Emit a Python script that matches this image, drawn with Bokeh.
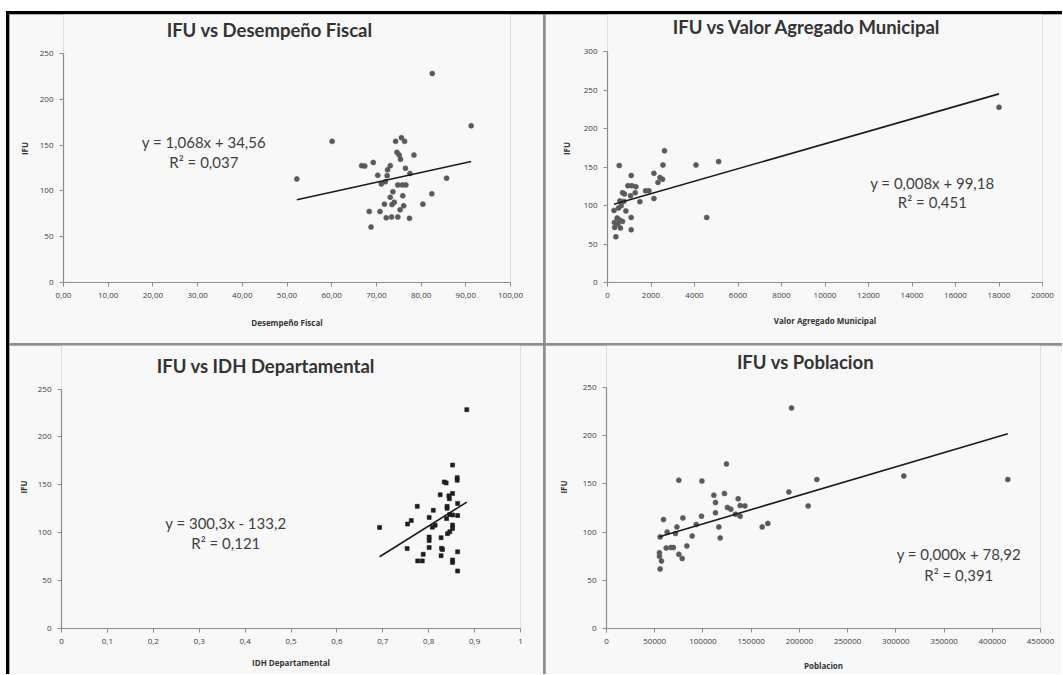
from bokeh.plotting import figure
from bokeh.models import Range1d, FixedTicker, Label
from bokeh.layouts import row, column
from bokeh.embed import file_html
from bokeh.resources import INLINE

# ---------------- data ----------------
titles = ["IFU vs Desempeño Fiscal", "IFU vs Valor Agregado Municipal",
          "IFU vs IDH Departamental", "IFU vs Poblacion"]
x_titles = ["Desempeño Fiscal", "Valor Agregado Municipal", "IDH Departamental", "Poblacion"]
y_title = "IFU"

desempeno = [82.5, 91.2, 60.1, 52.2, 74.3, 75.6, 76.3, 74.6, 75.1, 75.4, 78.4, 67.4, 66.7, 69.3, 73.1,
             72.5, 76.5, 77.5, 70.3, 72.4, 71.1, 72.0, 74.8, 75.8, 76.6, 85.7, 73.7, 75.9, 73.1, 82.4,
             71.8, 73.5, 74.0, 76.1, 80.4, 75.3, 68.4, 70.8, 72.2, 73.4, 74.8, 77.4, 68.8]
ifu_desempeno = [228, 171, 154, 113, 154, 158, 154, 142, 139, 134.5, 139, 127, 127.5, 131, 127.5,
                 123, 124.6, 119, 117, 116.6, 107.6, 110, 106.5, 106.5, 106.5, 113.8, 99, 94.6, 93, 96.7,
                 85.5, 85, 87.5, 83.7, 85.5, 79.3, 77.5, 77.5, 70.6, 71.5, 71.5, 70, 60.5]

valor_agregado = [2620, 540, 2550, 4068, 5110, 1090, 2134, 2320, 2530, 2410, 937, 1120, 1305, 690, 780,
                  1273, 1750, 1904, 1490, 2134, 1057, 569, 753, 629, 505, 845, 300, 1089, 445, 569,
                  689, 320, 477, 330, 597, 1089, 385, 4560, 18000]
ifu_valor = [171, 152, 152.6, 152.6, 157, 139, 141.8, 130, 134, 136.5, 125.7, 125.7, 124.4, 116.6, 115,
             116.6, 119, 119, 105, 109, 112.7, 106, 105.3, 99.7, 96.7, 93, 93.6, 84.5, 83.7, 81,
             79.3, 78, 76, 71.5, 70.7, 68.5, 59.4, 84.5, 227.6]

idh = [0.883, 0.852, 0.834, 0.838, 0.862, 0.862, 0.852, 0.844, 0.845, 0.825, 0.863, 0.840, 0.840,
       0.775, 0.810, 0.846, 0.852, 0.863, 0.801, 0.839, 0.762, 0.754, 0.814, 0.808, 0.852, 0.852,
       0.693, 0.841, 0.846, 0.801, 0.801, 0.827, 0.753, 0.801, 0.828, 0.830, 0.863, 0.788, 0.827,
       0.776, 0.786, 0.852, 0.852, 0.863]
ifu_idh = [228.5, 170.6, 153, 152, 157.5, 154.8, 141, 138.5, 135.5, 139.6, 130.6, 127.5, 125.5,
           127.5, 123.4, 119, 118.5, 118, 116, 114.8, 112.7, 109, 107.9, 105.8, 108, 104.5,
           105.5, 99, 101, 95.5, 92, 94.8, 83.4, 84.5, 83.7, 82.5, 80, 77.5, 76,
           70.6, 70.6, 71.5, 69, 60]

poblacion = [191800, 124400, 75000, 98900, 218100, 189100, 209100, 111300, 122300, 113000, 136500,
             138600, 143500, 125400, 128900, 113000, 133700, 138600, 98500, 79200, 59100, 116500,
             161400, 167300, 93000, 73000, 117900, 88800, 62900, 55600, 71500, 83300, 61900, 66700,
             69400, 54900, 54900, 75000, 78500, 57000, 55600, 308300, 416100]
ifu_poblacion = [228.8, 170.7, 153.8, 153, 154.5, 141.7, 127.2, 138.3, 140, 130.7, 134.5,
                 127.6, 127.2, 125.5, 123.8, 120, 118.6, 116.5, 116.5, 114.7, 113, 105.4,
                 105.4, 109, 107.9, 105.4, 94, 96, 100, 95, 98.5, 85.7, 83.6, 84,
                 84, 78.6, 75, 77, 72.6, 70, 61.8, 158.3, 154.6]

# trend lines (slope, intercept) as shown by the fitted equations
slopes = [1.068, 0.0081, 300.3, 0.000296]
intercepts = [34.56, 99.18, -133.2, 78.92]
eq_texts = ["y = 1,068x + 34,56", "y = 0,008x + 99,18", "y = 300,3x - 133,2", "y = 0,000x + 78,92"]
r2_texts = ["R² = 0,037", "R² = 0,451", "R² = 0,121", "R² = 0,391"]

x_ticks_1 = [0, 10, 20, 30, 40, 50, 60, 70, 80, 90, 100]
x_labels_1 = ["0,00", "10,00", "20,00", "30,00", "40,00", "50,00", "60,00", "70,00", "80,00", "90,00", "100,00"]
x_ticks_2 = [0, 2000, 4000, 6000, 8000, 10000, 12000, 14000, 16000, 18000, 20000]
x_labels_2 = ["0", "2000", "4000", "6000", "8000", "10000", "12000", "14000", "16000", "18000", "20000"]
x_ticks_3 = [0, 0.1, 0.2, 0.3, 0.4, 0.5, 0.6, 0.7, 0.8, 0.9, 1.0]
x_labels_3 = ["0", "0,1", "0,2", "0,3", "0,4", "0,5", "0,6", "0,7", "0,8", "0,9", "1"]
x_ticks_4 = [0, 50000, 100000, 150000, 200000, 250000, 300000, 350000, 400000, 450000]
x_labels_4 = ["0", "50000", "100000", "150000", "200000", "250000", "300000", "350000", "400000", "450000"]
y_ticks_250 = [0, 50, 100, 150, 200, 250]
y_ticks_300 = [0, 50, 100, 150, 200, 250, 300]

# ---------------- styling ----------------
BG = "#f8f8f8"
SEP = "#8f8f8f"
AX = "#8c8c8c"
TITLE_FONT = "Lato"
TXT_FONT = "Lato"
TICK_FONT = "Open Sans"


def make_panel(title, xlab, xs, ys, xr, ymax, xticks, xlabels, yticks, slope, intercept,
               eq, r2, eq_pos, title_pos, W, H, borders, marker="circle", msize=5,
               mcolor="#5a5a5a", xlab_standoff=14, ylab_standoff=10):
    left, right, top, bottom = borders
    # frame reaches the panel top so the title can sit inside it; the axis stops at ymax
    axis_px = H - top - bottom
    ytop = ymax * (1 + top / axis_px)
    p = figure(width=W, height=H, x_range=Range1d(*xr), y_range=Range1d(0, ytop),
               output_backend="svg", toolbar_location=None,
               min_border_left=left, min_border_right=right,
               min_border_top=0, min_border_bottom=bottom)
    p.background_fill_color = BG
    p.border_fill_color = BG
    p.outline_line_color = None
    p.grid.visible = False

    for ax in (p.xaxis[0], p.yaxis[0]):
        ax.axis_line_color = AX
        ax.axis_line_width = 1.2
        ax.major_tick_line_color = AX
        ax.major_tick_in = 0
        ax.major_tick_out = 4
        ax.minor_tick_line_color = None
        ax.major_label_text_font = TICK_FONT
        ax.major_label_text_font_size = "8px"
        ax.major_label_text_color = "#3a3a3a"
        ax.axis_label_text_font = TICK_FONT
        ax.axis_label_text_font_size = "8px"
        ax.axis_label_text_font_style = "bold"
        ax.axis_label_text_color = "#333333"

    p.xaxis.ticker = FixedTicker(ticks=xticks)
    p.xaxis.major_label_overrides = {t: l for t, l in zip(xticks, xlabels)}
    p.xaxis.major_label_standoff = 6
    p.xaxis.axis_label = xlab
    p.xaxis.axis_label_standoff = xlab_standoff

    p.yaxis.ticker = FixedTicker(ticks=yticks)
    p.yaxis.bounds = (0, ymax)
    p.yaxis.major_label_standoff = 6
    p.yaxis.axis_label = y_title
    p.yaxis.axis_label_standoff = ylab_standoff

    p.scatter(xs, ys, marker=marker, size=msize, fill_color=mcolor, line_color=mcolor, line_alpha=0.6)

    x0, x1 = min(xs), max(xs)
    p.line([x0, x1], [slope * x0 + intercept, slope * x1 + intercept],
           line_color="#1a1a1a", line_width=1.6)

    ex, ey1, ey2 = eq_pos
    p.add_layout(Label(x=ex, y=ey1, text=eq, text_align="center", text_baseline="middle",
                       text_font=TXT_FONT, text_font_size="15px", text_color="#404040"))
    p.add_layout(Label(x=ex, y=ey2, text=r2, text_align="center", text_baseline="middle",
                       text_font=TXT_FONT, text_font_size="15px", text_color="#404040"))

    tx, ty = title_pos
    p.add_layout(Label(x=tx, y=ty, text=title, text_align="center", text_baseline="middle",
                       text_font=TITLE_FONT, text_font_size="18.5px", text_font_style="bold",
                       text_color="#333333"))
    return p


# panel geometry: (left, right, top, bottom) borders in px
p1 = make_panel(titles[0], x_titles[0], desempeno, ifu_desempeno, (0, 100), 250,
                x_ticks_1, x_labels_1, y_ticks_250, slopes[0], intercepts[0],
                eq_texts[0], r2_texts[0], (31.4, 153, 131.5), (46.1, 275),
                534, 329, (54, 33, 39, 60), xlab_standoff=16, ylab_standoff=7)
p2 = make_panel(titles[1], x_titles[1], valor_agregado, ifu_valor, (0, 20000), 300,
                x_ticks_2, x_labels_2, y_ticks_300, slopes[1], intercepts[1],
                eq_texts[1], r2_texts[1], (14935, 128.7, 104), (9180, 331.6),
                517, 329, (62, 20, 37, 61), xlab_standoff=14, ylab_standoff=9)
p3 = make_panel(titles[2], x_titles[2], idh, ifu_idh, (0, 1), 250,
                x_ticks_3, x_labels_3, y_ticks_250, slopes[2], intercepts[2],
                eq_texts[2], r2_texts[2], (0.358, 110.3, 89), (0.445, 274.4),
                534, 329, (52, 23, 44, 43), marker="square", msize=4, mcolor="#1e1e1e",
                xlab_standoff=10, ylab_standoff=6)
p4 = make_panel(titles[3], x_titles[3], poblacion, ifu_poblacion, (0, 450000), 250,
                x_ticks_4, x_labels_4, y_ticks_250, slopes[3], intercepts[3],
                eq_texts[3], r2_texts[3], (365300, 77.8, 56), (206300, 276.6),
                517, 329, (61, 22, 42, 46), xlab_standoff=13, ylab_standoff=11)

r1 = row(p1, p2, spacing=2, styles={"background-color": SEP})
r2 = row(p3, p4, spacing=2, styles={"background-color": SEP})
layout = column(r1, r2, spacing=2, margin=(11, 0, 0, 6),
                styles={"background-color": SEP, "border-top": "3px solid #000",
                        "border-left": "3px solid #000"})

open("out.html", "w").write(file_html(layout, INLINE))
